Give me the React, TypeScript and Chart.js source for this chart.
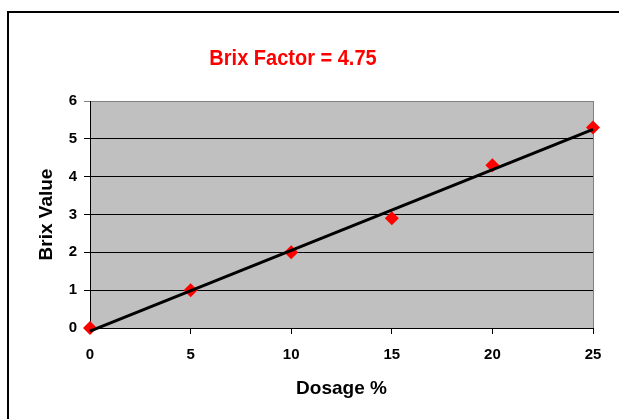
import React, { useEffect, useRef } from "react";
import { Chart, registerables } from "chart.js";

Chart.register(...registerables);

const dosage = [0, 5, 10, 15, 20, 25];
const brix = [0, 1, 2, 2.9, 4.3, 5.3];
const trendX = [0, 25];
const trendY = [-0.08, 5.25];
const titleText = "Brix Factor = 4.75";
const xTitle = "Dosage %";
const yTitle = "Brix Value";

const FONT = "'Liberation Sans', Arial, sans-serif";

const bgPlugin = {
  id: "plotBg",
  beforeDraw(chart: any) {
    const { ctx, chartArea: a } = chart;
    ctx.save();
    ctx.fillStyle = "#c0c0c0";
    ctx.fillRect(a.left, a.top, a.right - a.left, a.bottom - a.top);
    ctx.strokeStyle = "#808080";
    ctx.lineWidth = 1;
    ctx.beginPath();
    ctx.moveTo(a.right + 0.5, a.top);
    ctx.lineTo(a.right + 0.5, a.bottom);
    ctx.stroke();
    ctx.restore();
  },
  afterDraw(chart: any) {
    const { ctx } = chart;
    ctx.save();
    ctx.fillStyle = "#ff0000";
    ctx.font = `bold 20px ${FONT}`;
    ctx.textAlign = "center";
    ctx.textBaseline = "middle";
    ctx.translate(293, 59);
    ctx.scale(1, 1.12);
    ctx.fillText(titleText, 0, 0);
    ctx.restore();
  },
};

export default function App() {
  const ref = useRef<HTMLCanvasElement | null>(null);
  useEffect(() => {
    if (!ref.current) return;
    const chart = new Chart(ref.current, {
      type: "scatter",
      data: {
        datasets: [
          {
            label: "Brix",
            data: dosage.map((x, i) => ({ x, y: brix[i] })),
            pointStyle: "rectRot",
            pointRadius: 7,
            pointHoverRadius: 7,
            backgroundColor: "#ff0000",
            borderColor: "#ff0000",
            borderWidth: 0,
            clip: false as any,
            order: 2,
          },
          {
            label: "Trend",
            type: "line" as any,
            data: trendX.map((x, i) => ({ x, y: trendY[i] })),
            borderColor: "#000000",
            borderWidth: 3,
            pointRadius: 0,
            showLine: true,
            fill: false,
            clip: false as any,
            order: 1,
          },
        ],
      },
      options: {
        animation: false,
        responsive: false,
        events: [],
        layout: { padding: { top: 101, right: 26, bottom: 0, left: 0 } },
        plugins: {
          legend: { display: false },
          title: { display: false },
          tooltip: { enabled: false },
        },
        scales: {
          x: {
            type: "linear",
            min: 0,
            max: 25,
            afterFit: (s: any) => {
              s.height = 91;
            },
            ticks: {
              stepSize: 5,
              color: "#000",
              padding: 12,
              maxRotation: 0,
              font: { family: FONT, size: 15, weight: "bold" },
            },
            grid: {
              drawOnChartArea: false,
              drawTicks: true,
              tickLength: 6,
              color: "#000",
            },
            border: { color: "#000", width: 1 },
            title: {
              display: true,
              text: xTitle,
              color: "#000",
              font: { family: FONT, size: 19, weight: "bold" },
              padding: { top: 0, bottom: 19 },
            },
          },
          y: {
            type: "linear",
            min: 0,
            max: 6,
            afterFit: (s: any) => {
              s.width = 90;
            },
            ticks: {
              stepSize: 1,
              color: "#000",
              padding: 7,
              font: { family: FONT, size: 15, weight: "bold" },
            },
            grid: {
              drawTicks: true,
              tickLength: 6,
              color: (c: any) => (c.tick && c.tick.value === 6 ? "#808080" : "#000"),
              lineWidth: 1,
            },
            border: { color: "#000", width: 1 },
            title: {
              display: true,
              text: yTitle,
              color: "#000",
              font: { family: FONT, size: 19, weight: "bold" },
              padding: { top: 35, bottom: 0 },
            },
          },
        },
      },
      plugins: [bgPlugin],
    });
    return () => chart.destroy();
  }, []);

  return (
    <div
      style={{
        position: "fixed",
        left: 0,
        top: 0,
        width: 619,
        height: 419,
        overflow: "hidden",
        background: "#fff",
      }}
    >
      <div
        style={{
          position: "absolute",
          left: 7,
          top: 11,
          width: 800,
          height: 600,
          border: "2px solid #000",
          boxSizing: "border-box",
        }}
      />
      <canvas
        ref={ref}
        width={619}
        height={419}
        style={{ position: "absolute", left: 0, top: 0, width: 619, height: 419 }}
      />
    </div>
  );
}
